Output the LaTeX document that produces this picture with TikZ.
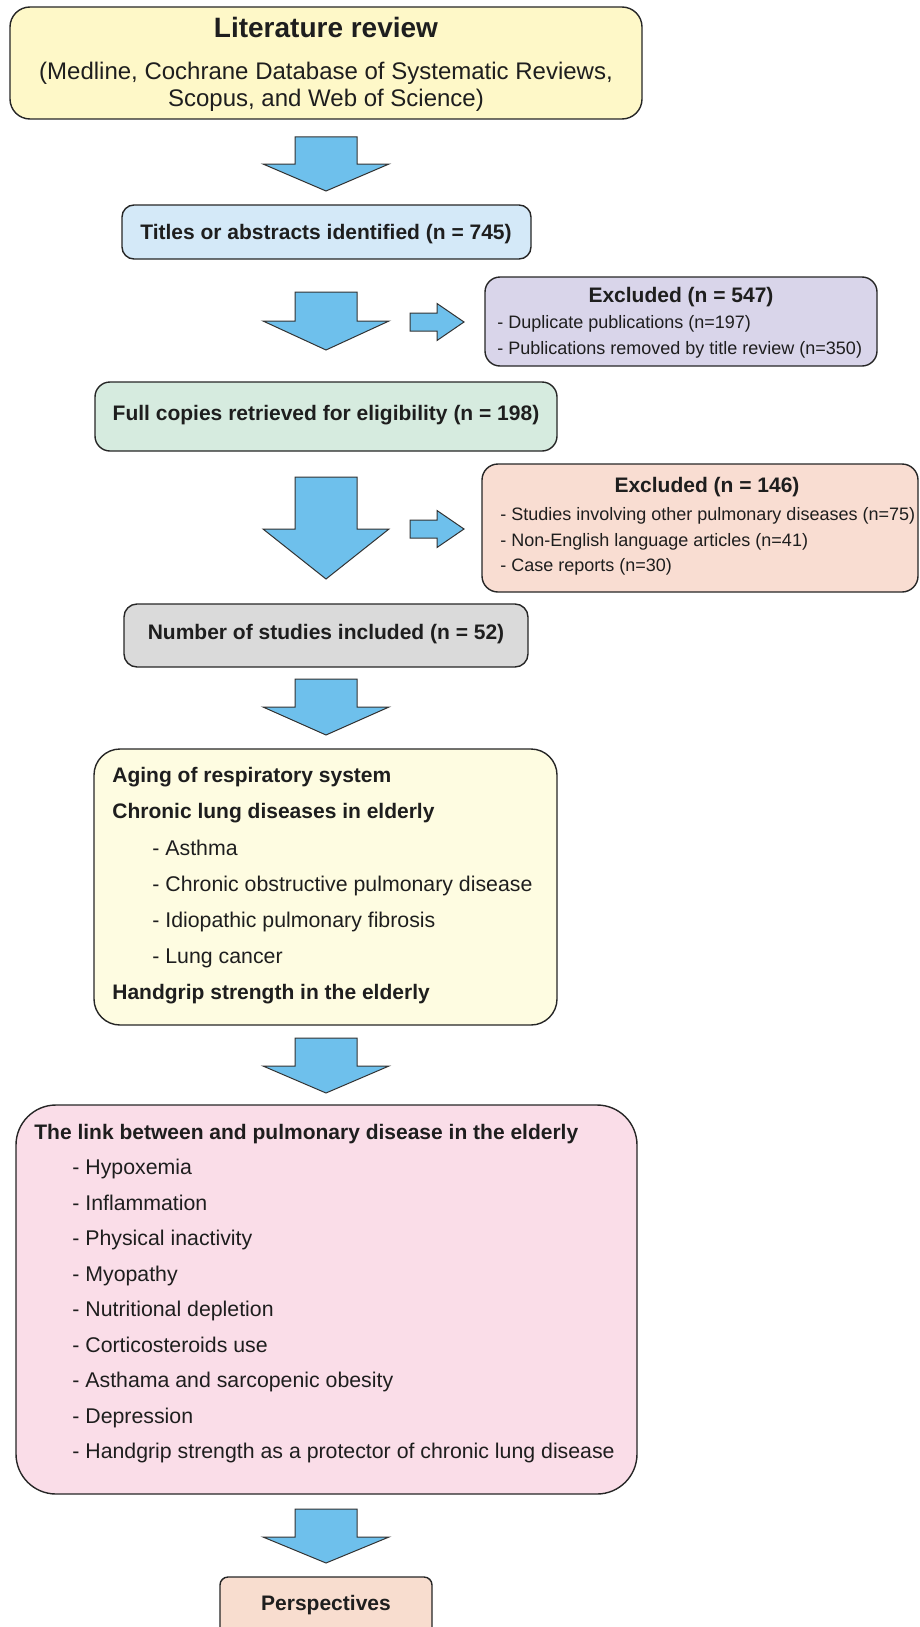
\documentclass[tikz,border=0pt]{standalone}
\usepackage{fontspec}
\setmainfont{Liberation Sans}
\usetikzlibrary{fit}
\definecolor{txt}{HTML}{1E1E1E}
\definecolor{arrowblue}{HTML}{6EC0EC}
\definecolor{cLit}{HTML}{FEF8C8}
\definecolor{cTitles}{HTML}{D4E9F8}
\definecolor{cExA}{HTML}{D9D5EA}
\definecolor{cFull}{HTML}{D6EBDF}
\definecolor{cExB}{HTML}{F9DDD2}
\definecolor{cNum}{HTML}{DADADA}
\definecolor{cAging}{HTML}{FEFCE1}
\definecolor{cLink}{HTML}{FADDE8}
\definecolor{cPersp}{HTML}{F8DDCF}
\newcommand{\myfbig}{\fontsize{14}{16}\selectfont\bfseries}
\newcommand{\myfsub}{\fontsize{12}{14}\selectfont}
\newcommand{\myfb}{\fontsize{10.5}{12}\selectfont\bfseries}
\newcommand{\myfr}{\fontsize{10.65}{12}\selectfont}
\newcommand{\myfs}{\fontsize{9}{11}\selectfont}
\newcommand{\dblock}[3]{\draw[blockarrow] (295,#1) -- (357,#1) -- (357,#2) -- (389,#2) -- (326,#3) -- (263,#2) -- (295,#2) -- cycle;}
\newcommand{\rblock}[1]{\draw[blockarrow] (410,{#1-9}) -- (437,{#1-9}) -- (437,{#1-18.5}) -- (464,#1) -- (437,{#1+18.5}) -- (437,{#1+9}) -- (410,{#1+9}) -- cycle;}
\begin{document}
\begin{tikzpicture}[x=0.5pt,y=-0.5pt,
  box/.style={draw=black!85, line width=0.7pt, inner sep=0pt, outer sep=0pt},
  tx/.style={inner sep=0pt, text=txt},
  blockarrow/.style={fill=arrowblue, draw=black!80, line width=0.5pt, line join=miter}]
\useasboundingbox (0,0) rectangle (920,1627);

% boxes
\node[box, fill=cLit, rounded corners=10pt, fit={(10,7) (642,119)}] (lit) {};
\node[box, fill=cTitles, rounded corners=6pt, fit={(122,205) (531,259)}] (titles) {};
\node[box, fill=cExA, rounded corners=7.5pt, fit={(485,277) (877,366)}] (exa) {};
\node[box, fill=cFull, rounded corners=7.5pt, fit={(95,382) (557,451)}] (full) {};
\node[box, fill=cExB, rounded corners=8pt, fit={(482,464) (918,592)}] (exb) {};
\node[box, fill=cNum, rounded corners=6.5pt, fit={(124,604) (528,667)}] (num) {};
\node[box, fill=cAging, rounded corners=13pt, fit={(94,749) (557,1025)}] (aging) {};
\node[box, fill=cLink, rounded corners=20pt, fit={(16,1105) (637,1494)}] (link) {};
\node[box, fill=cPersp, rounded corners=4pt, fit={(220,1577) (432,1645)}] (persp) {};

% arrows
\dblock{137}{164}{191}
\dblock{292}{321}{350}
\dblock{477}{529}{579}
\dblock{679}{707}{735}
\dblock{1038}{1066}{1093}
\dblock{1509}{1537}{1563}
\rblock{322}
\rblock{529}

% texts
\node[tx, anchor=base, font=\myfbig] (lit-t) at (326,38) {Literature review};
\node[tx, anchor=base, font=\myfsub] (lit-a) at (326,80) {(Medline, Cochrane Database of Systematic Reviews,};
\node[tx, anchor=base, font=\myfsub] (lit-b) at (326,106) {Scopus, and Web of Science)};

\node[tx, anchor=base, font=\myfb] (titles-t) at (326,239.5) {Titles or abstracts identified (n = 745)};

\node[tx, anchor=base, font=\myfb] (exa-t) at (681,302.5) {Excluded (n = 547)};
\node[tx, anchor=base west, font=\myfs] (exa-1) at (497,328.5) {- Duplicate publications (n=197)};
\node[tx, anchor=base west, font=\myfs] (exa-2) at (497,354.5) {- Publications removed by title review (n=350)};

\node[tx, anchor=base, font=\myfb] (full-t) at (326,420.5) {Full copies retrieved for eligibility (n = 198)};

\node[tx, anchor=base, font=\myfb] (exb-t) at (707,492.5) {Excluded (n = 146)};
\node[tx, anchor=base west, font=\myfs] (exb-1) at (500,520.5) {- Studies involving other pulmonary diseases (n=75)};
\node[tx, anchor=base west, font=\myfs] (exb-2) at (500,546) {- Non-English language articles (n=41)};
\node[tx, anchor=base west, font=\myfs] (exb-3) at (500,571.5) {- Case reports (n=30)};

\node[tx, anchor=base, font=\myfb] (num-t) at (326,639.5) {Number of studies included (n = 52)};

\node[tx, anchor=base west, font=\myfb] (ag-h1) at (112,782.5) {Aging of respiratory system};
\node[tx, anchor=base west, font=\myfb] (ag-h2) at (112,818.5) {Chronic lung diseases in elderly};
\foreach \t [count=\i from 0] in {- Asthma, - Chronic obstructive pulmonary disease, - Idiopathic pulmonary fibrosis, - Lung cancer}
  \node[tx, anchor=base west, font=\myfr] (ag-\i) at (152,{855.5+\i*36}) {\t};
\node[tx, anchor=base west, font=\myfb] (ag-h3) at (112,999.5) {Handgrip strength in the elderly};

\node[tx, anchor=base west, font=\myfb] (link-t) at (34,1139.5) {The link between and pulmonary disease in the elderly};
\foreach \t [count=\i from 0] in {- Hypoxemia, - Inflammation, - Physical inactivity, - Myopathy, - Nutritional depletion, - Corticosteroids use, - Asthama and sarcopenic obesity, - Depression, - Handgrip strength as a protector of chronic lung disease}
  \node[tx, anchor=base west, font=\myfr] (link-\i) at (72,{1174.5+\i*35.5}) {\t};

\node[tx, anchor=base, font=\myfb] (persp-t) at (326,1610.5) {Perspectives};
\end{tikzpicture}
\end{document}
